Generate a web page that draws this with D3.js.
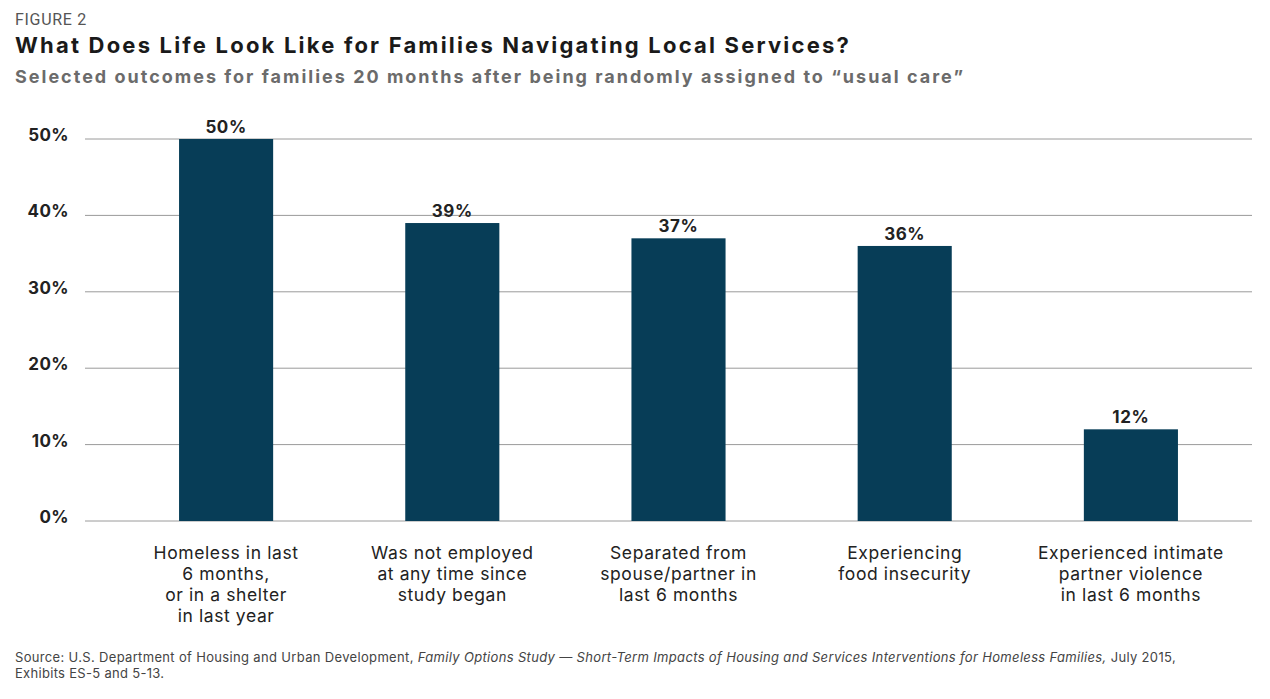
<!DOCTYPE html>
<html>
<head>
<meta charset="utf-8">
<script src="https://cdn.jsdelivr.net/npm/d3@7"></script>
<style>
  body { margin: 0; background: #fff; }
  svg { display: block; font-family: "Inter", "Liberation Sans", sans-serif; }
</style>
</head>
<body>
<div class="canvas"></div>
<script>
var width = 1270, height = 699;

var categories = [
	["Homeless in last", "6 months,", "or in a shelter", "in last year"],
	["Was not employed", "at any time since", "study began"],
	["Separated from", "spouse/partner in", "last 6 months"],
	["Experiencing", "food insecurity"],
	["Experienced intimate", "partner violence", "in last 6 months"]
];
var values = [50, 39, 37, 36, 12];
var yTicks = [0, 10, 20, 30, 40, 50];

var svg = d3.select(".canvas").append("svg")
	.attr("width", width)
	.attr("height", height);

// stretch a text to a given width with letter spacing (the original font is wider)
function fit(sel, w) {
	var node = sel.node();
	var len = node.getComputedTextLength();
	var n = node.textContent.length;
	if (len < w) sel.style("letter-spacing", ((w - len) / n) + "px");
	return sel;
}

// titles
svg.append("text")
	.attr("x", 15).attr("y", 25)
	.style("font-family", "'Liberation Sans Narrow', 'Roboto', sans-serif")
	.style("font-size", "16px")
	.style("fill", "#555")
	.text("FIGURE 2")
	.call(fit, 72);
svg.append("text")
	.attr("x", 15).attr("y", 53)
	.style("font-size", "22px")
	.style("font-weight", "700")
	.style("fill", "#1a1a1a")
	.text("What Does Life Look Like for Families Navigating Local Services?")
	.call(fit, 836);
svg.append("text")
	.attr("x", 15).attr("y", 83)
	.style("font-size", "18px")
	.style("font-weight", "700")
	.style("fill", "#6b6b6b")
	.text("Selected outcomes for families 20 months after being randomly assigned to \u201cusual care\u201d")
	.call(fit, 950);

var x = d3.scaleBand()
	.domain(d3.range(values.length))
	.range([113, 1244])
	.paddingInner(0.584)
	.paddingOuter(0.292);

var y = d3.scaleLinear()
	.domain([0, 50])
	.range([521, 139]);

// gridlines
svg.selectAll(".grid").data(yTicks)
	.enter().append("line")
	.attr("class", "grid")
	.attr("x1", 85).attr("x2", 1252)
	.attr("y1", function(d) { return y(d); })
	.attr("y2", function(d) { return y(d); })
	.style("stroke", "#9a9a9a")
	.style("stroke-width", "1px");

svg.selectAll(".ytick").data(yTicks)
	.enter().append("text")
	.attr("class", "ytick")
	.attr("x", 69)
	.attr("y", function(d) { return y(d) + 2; })
	.attr("text-anchor", "end")
	.style("font-size", "17px")
	.style("font-weight", "700")
	.style("letter-spacing", "0.4px")
	.style("fill", "#222")
	.text(function(d) { return d + "%"; });

// bars
svg.selectAll(".bar").data(values)
	.enter().append("rect")
	.attr("class", "bar")
	.attr("x", function(d, i) { return x(i); })
	.attr("y", function(d) { return y(d); })
	.attr("width", x.bandwidth())
	.attr("height", function(d) { return y(0) - y(d); })
	.style("fill", "#073d57");

svg.selectAll(".val").data(values)
	.enter().append("text")
	.attr("class", "val")
	.attr("x", function(d, i) { return x(i) + x.bandwidth() / 2; })
	.attr("y", function(d) { return y(d) - 6; })
	.attr("text-anchor", "middle")
	.style("font-size", "17px")
	.style("font-weight", "700")
	.style("letter-spacing", "0.6px")
	.style("fill", "#222")
	.text(function(d) { return d + "%"; });

// category labels
var cats = svg.selectAll(".cat").data(categories)
	.enter().append("text")
	.attr("class", "cat")
	.attr("text-anchor", "middle")
	.style("font-size", "17.5px")
	.style("letter-spacing", "0.6px")
	.style("fill", "#222");
cats.selectAll("tspan").data(function(d, i) { return d.map(function(s) { return {s: s, i: i}; }); })
	.enter().append("tspan")
	.attr("x", function(d) { return x(d.i) + x.bandwidth() / 2; })
	.attr("y", function(d, j) { return 559 + j * 21; })
	.text(function(d) { return d.s; });

// source
var src = svg.append("text")
	.attr("x", 15).attr("y", 662)
	.style("font-size", "13px")
	.style("fill", "#444");
src.append("tspan").text("Source: U.S. Department of Housing and Urban Development, ");
src.append("tspan").style("font-style", "italic")
	.text("Family Options Study \u2014 Short-Term Impacts of Housing and Services Interventions for Homeless Families,");
src.append("tspan").text(" July 2015,");
src.call(fit, 1161);
svg.append("text")
	.attr("x", 15).attr("y", 678)
	.style("font-size", "13px")
	.style("letter-spacing", "0.3px")
	.style("fill", "#444")
	.text("Exhibits ES-5 and 5-13.");
</script>
</body>
</html>
